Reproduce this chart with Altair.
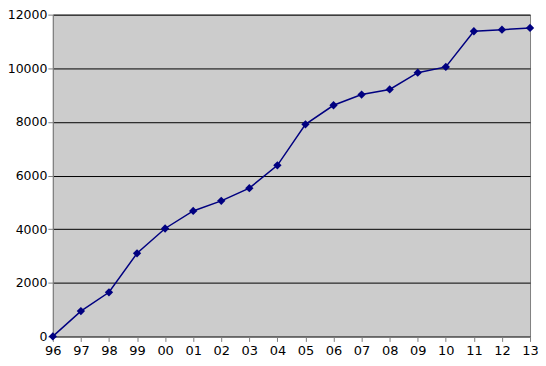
import altair as alt
import pandas as pd

years = ["96", "97", "98", "99", "00", "01", "02", "03", "04", "05", "06", "07", "08", "09", "10", "11", "12", "13"]
values = [0, 945, 1645, 3100, 4025, 4680, 5055, 5530, 6380, 7910, 8620, 9020, 9210, 9835, 10050, 11380, 11440, 11505]
y_ticks = [0, 2000, 4000, 6000, 8000, 10000, 12000]

df = pd.DataFrame({"year": years, "value": values})

x = alt.X("year:O", sort=years, scale=alt.Scale(type="point", padding=0),
          axis=alt.Axis(title=None, labelAngle=0, grid=False, domainColor="#808080",
                        tickColor="#808080", tickSize=5, labelPadding=3,
                        labelFont="DejaVu Sans", labelFontSize=13, labelColor="#000000"))
y = alt.Y("value:Q", scale=alt.Scale(domain=[0, 12000], nice=False),
          axis=alt.Axis(title=None, values=y_ticks, format="d",
                        grid=True, gridColor="#000000", gridWidth=1, domainColor="#808080",
                        tickColor="#808080", tickSize=5, labelPadding=1,
                        labelFont="DejaVu Sans", labelFontSize=12.5, labelColor="#000000"))

base = alt.Chart(df).encode(x=x, y=y)
line = base.mark_line(color="#000080", strokeWidth=1.5)
pts = base.mark_point(shape="diamond", filled=True, color="#000080", size=70, opacity=1)

chart = (line + pts).properties(
    width=479, height=323,
    autosize="none",
    padding={"left": 45, "top": 6, "right": 8, "bottom": 21},
).configure_view(fill="#CCCCCC", stroke="#808080", strokeWidth=1)

chart.save("out.html", embed_options={"renderer": "svg", "actions": False})
